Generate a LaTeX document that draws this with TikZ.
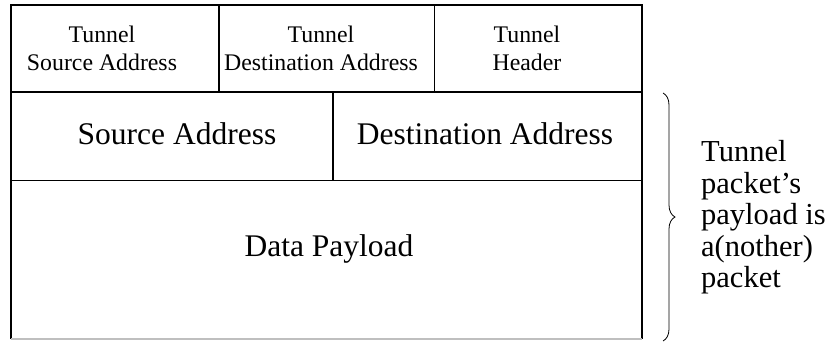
\documentclass[tikz,border=0pt]{standalone}
\usepackage{fontspec}
\setmainfont{Liberation Serif}
\usetikzlibrary{decorations.pathreplacing}
\begin{document}
\begin{tikzpicture}[x=1pt,y=-1pt,
  cellline/.style={line width=1.1pt,black},
  smalltxt/.style={font=\fontsize{23.8}{28}\selectfont,align=center,inner sep=0pt},
  bigtxt/.style={font=\fontsize{31.5}{34}\selectfont,inner sep=0pt,anchor=base},
  sidetxt/.style={font=\fontsize{30.5}{31.5}\selectfont,align=left,inner sep=0pt,anchor=west}]
\useasboundingbox (0,0) rectangle (836,341);
% frame
\draw[cellline] (11,339) -- (11,5) -- (642,5) -- (642,339);
\draw[line width=1.1pt,black!25] (11,339) -- (642,339);
\draw[cellline] (11,92) -- (642,92);
\draw[cellline] (11,180.5) -- (642,180.5);
\draw[cellline] (219,5) -- (219,92);
\draw[cellline] (434.5,5) -- (434.5,92);
\draw[cellline] (333,92) -- (333,180.5);
% top row
\node[smalltxt] (tsa) at (102,48) {Tunnel\\Source Address};
\node[smalltxt] (tda) at (321,48) {Tunnel\\Destination Address};
\node[smalltxt] (th) at (527,48) {Tunnel\\Header};
% middle row
\node[bigtxt] (sa) at (177,144) {Source Address};
\node[bigtxt] (da) at (485,144) {Destination Address};
% bottom row
\node[bigtxt] (dp) at (329,256) {Data Payload};
% brace
\coordinate (bt) at (663,93);
\coordinate (bb) at (663,341);
\draw[line width=0.8pt,decorate,decoration={brace,amplitude=12pt}] (bt) -- (bb);
\node[sidetxt] (side) at (701,217.5) {Tunnel\\packet’s\\payload is\\a(nother)\\packet};
\end{tikzpicture}
\end{document}
